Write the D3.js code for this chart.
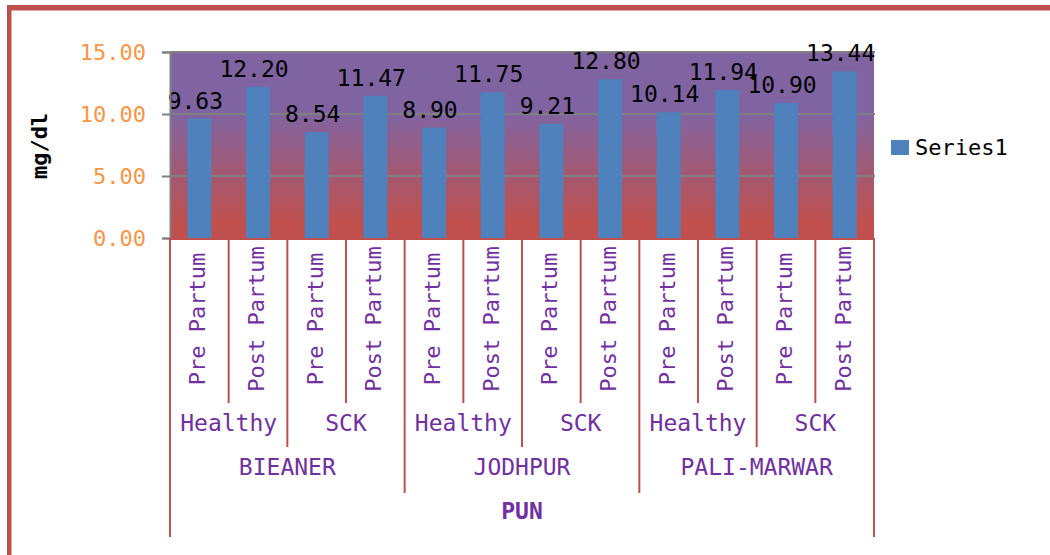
<!DOCTYPE html>
<html>
<head>
<meta charset="utf-8">
<script src="https://cdn.jsdelivr.net/npm/d3@7"></script>
<style>
  html, body { margin: 0; padding: 0; background: #fff; }
  svg { display: block; }
  text { font-family: "DejaVu Sans Mono", "Liberation Mono", monospace; }
</style>
</head>
<body>
<svg id="chart" width="1050" height="555"></svg>
<script>
// Serum values (mg/dl) by district, health status and partum stage
const region = "PUN";
const cities = ["BIEANER", "JODHPUR", "PALI-MARWAR"];
const groups = ["Healthy", "SCK"];
const phases = ["Pre Partum", "Post Partum"];
const values = [9.63, 12.20, 8.54, 11.47, 8.90, 11.75, 9.21, 12.80, 10.14, 11.94, 10.90, 13.44];
const yTicks = [0, 5, 10, 15];
const seriesName = "Series1";
const yTitle = "mg/dl";

// flat category list built from the hierarchy
const cats = [];
cities.forEach(c => groups.forEach(g => phases.forEach(p => cats.push({ city: c, group: g, phase: p }))));
cats.forEach((d, i) => { d.value = values[i]; d.key = i; });

const svg = d3.select("#chart");
const plot = { left: 170, right: 874, top: 52, bottom: 238 };

const x = d3.scaleBand().domain(cats.map(d => d.key)).range([plot.left, plot.right]).paddingInner(0).paddingOuter(0);
const y = d3.scaleLinear().domain([0, 15]).range([plot.bottom, plot.top]);

// outer frame lines
svg.append("rect").attr("x", 7).attr("y", 5).attr("width", 1043).attr("height", 5.5).attr("fill", "#C0504D");
svg.append("rect").attr("x", 7).attr("y", 5).attr("width", 4.5).attr("height", 550).attr("fill", "#C0504D");

// plot background gradient
const defs = svg.append("defs");
const grad = defs.append("linearGradient").attr("id", "bg").attr("x1", 0).attr("y1", 0).attr("x2", 0).attr("y2", 1);
grad.append("stop").attr("offset", "0.32").attr("stop-color", "#8064A2");
grad.append("stop").attr("offset", "0.92").attr("stop-color", "#C0504D");
svg.append("rect")
  .attr("x", plot.left).attr("y", plot.top)
  .attr("width", plot.right - plot.left).attr("height", plot.bottom - plot.top)
  .attr("fill", "url(#bg)");

// gridlines
svg.append("g").selectAll("line").data(yTicks.filter(t => t > 0)).join("line")
  .attr("x1", plot.left).attr("x2", plot.right + 1)
  .attr("y1", d => y(d)).attr("y2", d => y(d))
  .attr("stroke", "#808080").attr("stroke-width", 2);

// bars
const barW = 24;
svg.append("g").selectAll("rect").data(cats).join("rect")
  .attr("x", d => x(d.key) + x.bandwidth() / 2 - barW / 2)
  .attr("y", d => y(d.value))
  .attr("width", barW)
  .attr("height", d => y(0) - y(d.value))
  .attr("fill", "#4F81BD");

// value labels
svg.append("g").selectAll("text").data(cats).join("text")
  .attr("x", d => x(d.key) + x.bandwidth() / 2 - 4)
  .attr("y", d => y(d.value) - 10)
  .attr("text-anchor", "middle")
  .attr("font-size", 23)
  .attr("fill", "#000")
  .text(d => d.value.toFixed(2));

// y axis
const yAxis = svg.append("g").attr("transform", `translate(${plot.left},0)`)
  .call(d3.axisLeft(y).tickValues(yTicks).tickSize(8).tickPadding(16).tickFormat(d3.format(".2f")));
yAxis.select(".domain").attr("stroke", "#808080").attr("stroke-width", 2);
yAxis.selectAll(".tick line").attr("stroke", "#808080").attr("stroke-width", 2);
yAxis.selectAll(".tick text")
  .attr("fill", "#F79646")
  .attr("font-size", 22)
  .attr("font-family", "DejaVu Sans Mono, monospace")
  .attr("dy", "0.35em");

// y title
svg.append("text")
  .attr("transform", "translate(47,146) rotate(-90)")
  .attr("text-anchor", "middle")
  .attr("font-size", 22)
  .attr("font-weight", "bold")
  .attr("fill", "#000")
  .text(yTitle);

// category axis line
const red = "#C0504D";
svg.append("line")
  .attr("x1", plot.left).attr("x2", plot.right + 1)
  .attr("y1", plot.bottom + 1).attr("y2", plot.bottom + 1)
  .attr("stroke", red).attr("stroke-width", 2);

// separators: depth depends on which hierarchy boundary they mark
const bounds = d3.range(cats.length + 1);
const sepEnd = i => {
  if (i === 0 || i === cats.length) return 537;
  if (i % 4 === 0) return 493;
  if (i % 2 === 0) return 447;
  return 403;
};
svg.append("g").selectAll("line").data(bounds).join("line")
  .attr("x1", i => i < cats.length ? x(i) : plot.right)
  .attr("x2", i => i < cats.length ? x(i) : plot.right)
  .attr("y1", plot.bottom)
  .attr("y2", sepEnd)
  .attr("stroke", red).attr("stroke-width", 2);

const purple = "#7030A0";
// phase labels (rotated)
svg.append("g").selectAll("text").data(cats).join("text")
  .attr("transform", d => `translate(${x(d.key) + x.bandwidth() / 2 + 6},319) rotate(-90)`)
  .attr("text-anchor", "middle")
  .attr("font-size", 22)
  .attr("fill", purple)
  .text(d => d.phase);

// group labels
const groupCells = [];
cities.forEach((c, ci) => groups.forEach((g, gi) => {
  const start = (ci * groups.length + gi) * phases.length;
  groupCells.push({ label: g, x0: x(start), x1: x(start + phases.length - 1) + x.bandwidth() });
}));
svg.append("g").selectAll("text").data(groupCells).join("text")
  .attr("x", d => (d.x0 + d.x1) / 2)
  .attr("y", 431)
  .attr("text-anchor", "middle")
  .attr("font-size", 23)
  .attr("fill", purple)
  .text(d => d.label);

// city labels
const per = groups.length * phases.length;
const cityCells = cities.map((c, ci) => ({ label: c, x0: x(ci * per), x1: x(ci * per + per - 1) + x.bandwidth() }));
svg.append("g").selectAll("text").data(cityCells).join("text")
  .attr("x", d => (d.x0 + d.x1) / 2)
  .attr("y", 475)
  .attr("text-anchor", "middle")
  .attr("font-size", 23)
  .attr("fill", purple)
  .text(d => d.label);

// region label
svg.append("text")
  .attr("x", (plot.left + plot.right) / 2)
  .attr("y", 519)
  .attr("text-anchor", "middle")
  .attr("font-size", 23)
  .attr("font-weight", "bold")
  .attr("fill", purple)
  .text(region);

// legend
const lg = svg.append("g").attr("transform", "translate(891,140)");
lg.append("rect").attr("width", 18).attr("height", 15).attr("fill", "#4F81BD");
lg.append("text").attr("x", 24).attr("y", 15).attr("font-size", 22).attr("fill", "#000").text(seriesName);
</script>
</body>
</html>
